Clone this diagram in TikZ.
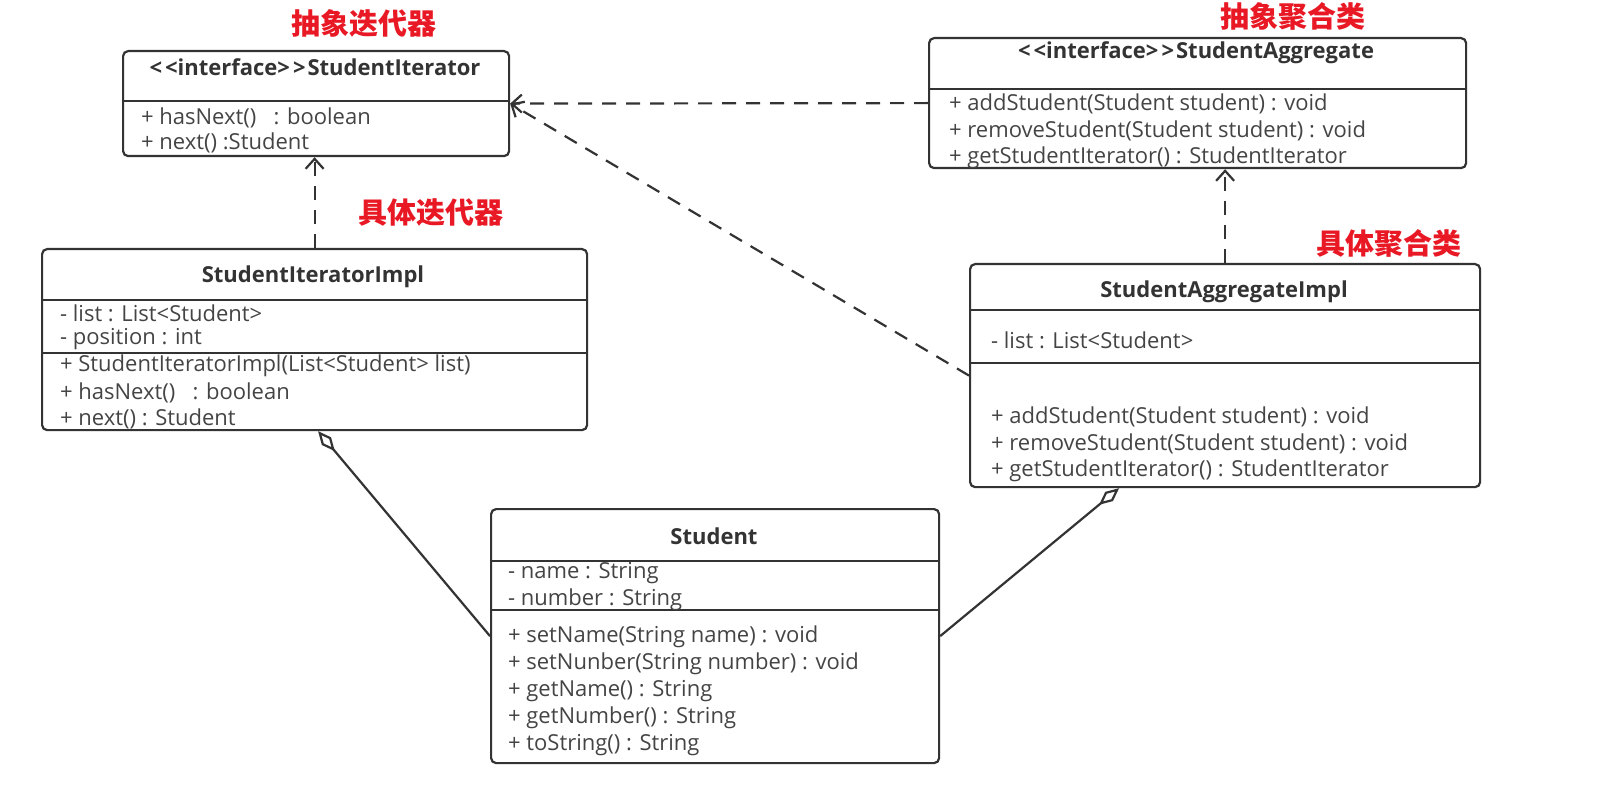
\documentclass[tikz,border=0pt]{standalone}
\usepackage{fontspec}
\setmainfont{Open Sans}
\newfontfamily\cjk{Noto Sans CJK SC}
\usetikzlibrary{arrows.meta}
\definecolor{umlline}{RGB}{51,51,51}
\definecolor{umltext}{RGB}{68,68,68}
\definecolor{tagred}{RGB}{232,24,36}
\tikzset{every picture/.style={line width=1.1pt}}
\tikzset{
	classbox/.style={draw=umlline, rounded corners=2.5pt, anchor=north west, inner sep=0pt},
	classname/.style={inner sep=0pt, text=umlline, font=\bfseries\fontsize{11}{13}\selectfont},
	member/.style={anchor=west, inner sep=0pt, text=umltext, font=\fontsize{11}{13}\selectfont},
	tagtext/.style={inner sep=0pt, text=tagred, font=\cjk\bfseries\fontsize{14.5}{16}\selectfont},
	divider/.style={draw=umlline},
	realize/.style={draw=umlline, dash pattern=on 7pt off 5pt, -{Straight Barb[length=5pt,width=9pt]}},
	aggregate/.style={draw=umlline, {Diamond[open,length=13pt,width=6pt]}-}
}
\newcommand{\stereo}{<\kern1.5pt<interface>\kern1.5pt>\kern1pt}

\begin{document}
\begin{tikzpicture}[x=0.5pt,y=0.5pt,yscale=-1]
	\useasboundingbox (0,0) rectangle (1622,786);

	%Shape: Class [id:iter]
	\node[classbox, minimum width=193pt, minimum height=52.5pt] (iter) at (122,50) {};
	\draw[divider] (122,101) -- (508,101) ;
	%Shape: Class [id:agg]
	\node[classbox, minimum width=268.5pt, minimum height=65pt] (agg) at (928,37) {};
	\draw[divider] (928,89) -- (1465,89) ;
	%Shape: Class [id:iterimpl]
	\node[classbox, minimum width=272.5pt, minimum height=90.5pt] (iterimpl) at (41,248) {};
	\draw[divider] (41,300) -- (586,300) ;
	\draw[divider] (41,353) -- (586,353) ;
	%Shape: Class [id:aggimpl]
	\node[classbox, minimum width=255pt, minimum height=111.5pt] (aggimpl) at (969,263) {};
	\draw[divider] (969,310) -- (1479,310) ;
	\draw[divider] (969,363) -- (1479,363) ;
	%Shape: Class [id:student]
	\node[classbox, minimum width=224pt, minimum height=127pt] (student) at (490,508) {};
	\draw[divider] (490,561) -- (938,561) ;
	\draw[divider] (490,610) -- (938,610) ;

	%Dashed Lines [id:realize]
	\draw[realize] (agg.west) -- (iter.east) ;
	\draw[realize] (aggimpl.west) -- (iter.east) ;
	\draw[realize] (iterimpl.north) -- (iterimpl.north |- iter.south) ;
	\draw[realize] (aggimpl.north) -- (aggimpl.north |- agg.south) ;
	%Straight Lines [id:aggregate]
	\draw[aggregate] ([xshift=1.75pt]iterimpl.south) -- (student.west) ;
	\draw[aggregate] ([xshift=-53pt]aggimpl.south) -- (student.east) ;

	% Text Node
	\node[classname] (iter-name) at (315,67) {\stereo StudentIterator};
	\node[member] (iter-m1) at (140,118) {+ hasNext()\ \ \ : boolean};
	\node[member] (iter-m2) at (140,143) {+ next() :Student};
	% Text Node
	\node[classname] (agg-name) at (1196,53) {\stereo StudentAggregate};
	\node[member] (agg-m1) at (948,104) {+ addStudent(Student student) : void};
	\node[member] (agg-m2) at (948,131) {+ removeStudent(Student student) : void};
	\node[member] (agg-m3) at (948,158) {+ getStudentIterator() : StudentIterator};
	% Text Node
	\node[classname] (iterimpl-name) at (313,277) {StudentIteratorImpl};
	\node[member] (iterimpl-a1) at (59,313) {- list : List<Student>};
	\node[member] (iterimpl-a2) at (59,339) {- position : int};
	\node[member] (iterimpl-m1) at (59,366) {+ StudentIteratorImpl(List<Student> list)};
	\node[member] (iterimpl-m2) at (59,393) {+ hasNext()\ \ \ : boolean};
	\node[member] (iterimpl-m3) at (59,419) {+ next() : Student};
	% Text Node
	\node[classname] (aggimpl-name) at (1224,292) {StudentAggregateImpl};
	\node[member] (aggimpl-a1) at (990,340) {- list : List<Student>};
	\node[member] (aggimpl-m1) at (990,417) {+ addStudent(Student student) : void};
	\node[member] (aggimpl-m2) at (990,444) {+ removeStudent(Student student) : void};
	\node[member] (aggimpl-m3) at (990,471) {+ getStudentIterator() : StudentIterator};
	% Text Node
	\node[classname] (student-name) at (714,536) {Student};
	\node[member] (student-a1) at (507,573) {- name : String};
	\node[member] (student-a2) at (507,600) {- number : String};
	\node[member] (student-m1) at (507,637) {+ setName(String name) : void};
	\node[member] (student-m2) at (507,664) {+ setNunber(String number) : void};
	\node[member] (student-m3) at (507,691) {+ getName() : String};
	\node[member] (student-m4) at (507,718) {+ getNumber() : String};
	\node[member] (student-m5) at (507,745) {+ toString() : String};

	% Text Node
	\node[tagtext] (tag-iter) at (364,23) {抽象迭代器};
	\node[tagtext] (tag-iterimpl) at (431,212) {具体迭代器};
	\node[tagtext] (tag-agg) at (1293,16) {抽象聚合类};
	\node[tagtext] (tag-aggimpl) at (1389,243) {具体聚合类};
\end{tikzpicture}
\end{document}
